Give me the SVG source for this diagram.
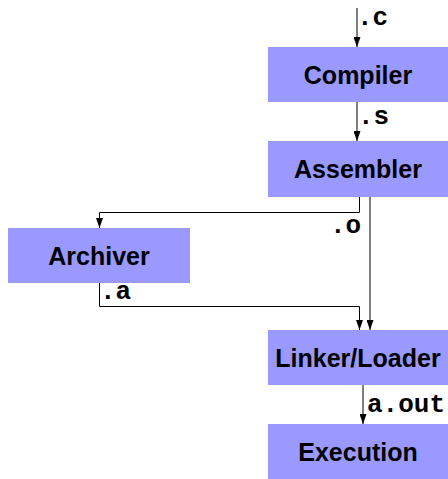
<svg xmlns="http://www.w3.org/2000/svg" width="448" height="479" viewBox="0 0 448 479">
  <defs>
    <style>
      .box { fill: #9999ff; }
      .name { font-family: "Liberation Sans", Arial, sans-serif; font-weight: bold; font-size: 25px; fill: #000; text-anchor: middle; }
      .ext { font-family: "Liberation Mono", "Courier New", monospace; font-weight: bold; font-size: 26px; fill: #000; }
      .wire { fill: none; stroke: #000; stroke-width: 1; }
    </style>
    <!-- filled arrowhead, tip at the end of the path -->
    <marker id="head" markerUnits="userSpaceOnUse" markerWidth="10" markerHeight="7" refX="10" refY="3.5" orient="auto" viewBox="0 0 10 7">
      <path d="M0,0 L10,3.5 L0,7 Z" fill="#000"/>
    </marker>
  </defs>
  <rect width="448" height="479" fill="#fff"/>

  <!-- connectors -->
  <g id="connectors">
    <path class="wire" d="M357,8 V47" marker-end="url(#head)"/>
    <path class="wire" d="M357,102 V141" marker-end="url(#head)"/>
    <path class="wire" d="M359.5,197 V212.5 H99.5 V228" marker-end="url(#head)"/>
    <path class="wire" d="M370,197 V330" marker-end="url(#head)"/>
    <path class="wire" d="M99.5,283 V306.5 H359.5 V330" marker-end="url(#head)"/>
    <path class="wire" d="M363,385 V424" marker-end="url(#head)"/>
    <text class="ext" x="357" y="25">.c</text>
    <text class="ext" x="358" y="124">.s</text>
    <text class="ext" x="330" y="233">.o</text>
    <text class="ext" x="100" y="299">.a</text>
    <text class="ext" x="367" y="412">a.out</text>
  </g>

  <g id="compiler">
    <rect class="box" x="268" y="47" width="180" height="55"/>
    <text class="name" x="358" y="83.5">Compiler</text>
  </g>
  <g id="assembler">
    <rect class="box" x="268" y="141" width="180" height="56"/>
    <text class="name" x="358" y="178">Assembler</text>
  </g>
  <g id="archiver">
    <rect class="box" x="8" y="228" width="182" height="55"/>
    <text class="name" x="99" y="264.5">Archiver</text>
  </g>
  <g id="linker">
    <rect class="box" x="268" y="330" width="180" height="55"/>
    <text class="name" x="358" y="366.5">Linker/Loader</text>
  </g>
  <g id="execution">
    <rect class="box" x="268" y="424" width="180" height="55"/>
    <text class="name" x="358" y="460.5">Execution</text>
  </g>
</svg>
